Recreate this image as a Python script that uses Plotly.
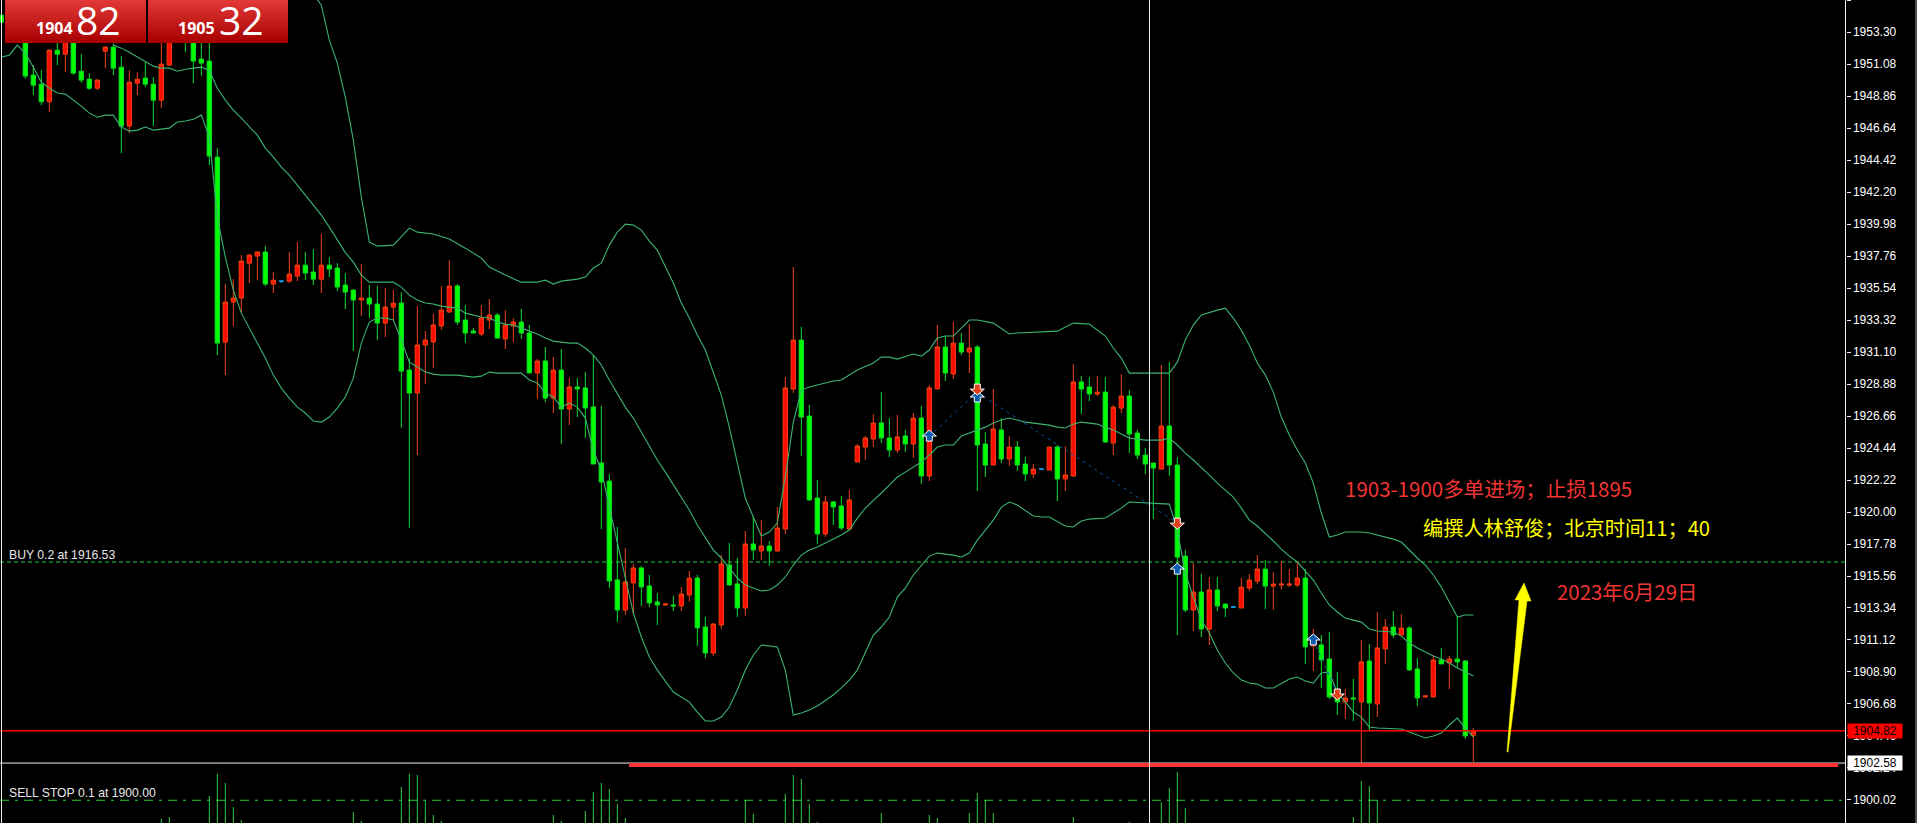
import plotly.graph_objects as go

# ---------- data (XAUUSD M-chart) ----------
PRICE_TICKS = [1955.52,1953.30,1951.08,1948.86,1946.64,1944.42,1942.20,1939.98,1937.76,1935.54,1933.32,1931.10,1928.88,1926.66,1924.44,1922.22,1920.00,1917.78,1915.56,1913.34,1911.12,1908.90,1906.68,1904.46,1902.24,1900.02]

open_ = [1954.48,1954.00,1953.90,1953.21,1950.32,1949.69,1948.47,1952.05,1951.77,1952.98,
1950.59,1950.04,1949.41,1951.98,1952.26,1950.87,1946.78,1949.76,1950.11,1949.69,
1948.58,1951.01,1953.67,1953.44,1953.21,1951.43,1951.29,1944.63,1931.79,1934.57,
1934.85,1937.27,1937.76,1938.04,1935.82,None,1936.02,1936.37,1937.13,1936.65,
1936.16,1937.13,1936.93,1935.75,1935.40,1934.71,1934.85,1934.43,1933.11,1934.22,
1934.50,1929.85,1928.26,1931.59,1931.80,1932.91,1933.88,1935.68,1933.32,1932.56,
1932.35,1933.32,1933.67,1932.01,1932.91,1933.18,1932.42,1929.65,1930.48,1927.91,
1929.85,1927.15,1928.68,1928.61,1927.29,1923.40,1922.15,1915.29,1913.20,1915.08,
1916.12,1914.87,1913.76,1913.55,1913.55,1913.48,1914.24,1915.42,1912.02,1910.22,
1912.16,1916.33,1915.01,1913.34,1917.78,1917.30,1917.64,1917.30,1918.82,1928.54,
1931.93,1926.66,1920.97,1918.48,1920.70,1920.42,1918.82,1923.47,1924.51,1925.07,
1926.18,1925.14,1924.30,1925.28,1924.72,1926.52,1922.50,1928.54,1931.45,1929.57,
1931.72,1931.10,1931.45,1924.72,1923.26,1925.69,1923.68,1924.51,1923.33,1922.64,
None,1922.91,1924.51,1922.29,1922.50,1929.02,1928.67,1928.19,1928.32,1924.79,
1927.21,1928.05,1925.48,1923.95,1923.40,1922.98,1925.97,1923.26,1916.94,1913.20,
1914.45,1911.88,1914.59,1913.61,None,1913.34,1914.72,1915.21,1916.04,1914.86,
1914.93,1914.93,1914.93,1915.42,1910.71,1910.78,1909.80,1907.65,1906.82,1907.10,
1906.82,1909.66,1906.68,1910.50,1912.02,1911.47,1911.95,1909.11,1907.17,1907.17,1909.73,1909.53,1909.80,1909.66,1904.51]

high = [1954.48,1954.20,1954.10,1953.67,1951.01,1950.66,1952.10,1952.74,1952.98,1953.21,
1951.77,1950.46,1950.04,1952.33,1952.51,1951.63,1950.66,1950.52,1951.22,1950.18,
1953.21,1953.44,1954.13,1953.67,1953.44,1952.74,1952.63,1945.25,1935.82,1936.16,
1937.83,1937.90,1938.11,1938.45,1936.65,None,1938.04,1938.73,1938.04,1938.24,
1939.29,1937.69,1937.27,1936.58,1935.47,1937.20,1935.75,1935.68,1935.54,1935.40,
1935.26,1930.66,1934.29,1932.56,1933.74,1935.68,1937.48,1935.82,1934.36,1932.77,
1934.36,1934.78,1933.81,1934.02,1933.46,1934.09,1932.98,1930.62,1931.45,1930.76,
1931.31,1929.30,1929.30,1929.72,1930.90,1927.36,1922.64,1918.96,1917.51,1916.40,
1916.26,1915.63,1914.38,1913.69,1914.18,1914.80,1915.91,1915.63,1912.72,1912.30,
1917.02,1917.85,1916.81,1918.68,1919.73,1919.45,1917.99,1920.35,1929.37,1937.00,
1932.84,1927.43,1922.22,1921.11,1920.77,1921.11,1921.53,1924.72,1925.28,1926.80,
1928.33,1926.52,1926.73,1925.69,1926.87,1927.36,1928.81,1932.98,1932.21,1933.18,
1932.42,1933.04,1931.59,1925.55,1928.53,1926.52,1925.27,1924.93,1923.82,1923.33,
None,1924.51,1924.65,1924.58,1930.27,1929.43,1929.37,1929.43,1929.37,1927.42,
1929.57,1928.46,1925.69,1924.44,1923.40,1930.20,1930.41,1923.81,1917.36,1916.46,
1915.70,1915.49,1915.49,1913.68,None,1915.42,1915.70,1917.01,1916.67,1915.83,
1916.60,1916.04,1916.60,1916.05,1911.89,1911.47,1911.68,1908.90,1907.72,1908.42,
1911.12,1910.84,1913.06,1912.58,1913.13,1912.93,1912.09,1909.87,1907.24,1910.08,1910.57,1910.01,1912.72,1909.73,1905.02]

low = [1953.99,1953.30,1953.20,1950.06,1948.93,1948.24,1947.77,1951.01,1950.52,1950.32,
1949.78,1949.28,1949.28,1950.80,1950.32,1944.91,1946.29,1948.93,1949.48,1946.78,
1948.03,1951.01,1952.74,1951.91,1949.76,1950.25,1944.07,1930.89,1929.50,1932.90,
1933.87,1935.89,1936.09,1935.68,1935.19,None,1935.89,1936.02,1936.09,1935.75,
1935.19,1936.30,1935.33,1934.08,1931.17,1933.60,1933.46,1931.93,1932.14,1933.32,
1925.85,1918.91,1923.95,1928.88,1929.99,1932.63,1933.81,1932.98,1931.73,1932.42,
1932.21,1932.70,1932.07,1931.31,1931.80,1932.01,1929.65,1927.84,1927.63,1926.87,
1924.72,1926.04,1926.59,1925.14,1923.33,1918.82,1914.73,1912.37,1912.86,1912.86,
1913.48,1913.41,1912.16,1913.48,1913.13,1913.13,1913.76,1910.71,1909.87,1910.01,
1911.89,1914.87,1912.72,1912.79,1916.67,1916.67,1916.26,1917.23,1918.48,1928.26,
1923.89,1920.77,1917.78,1918.27,1919.10,1918.75,1918.75,1923.47,1923.61,1924.51,
1924.79,1923.82,1924.10,1924.17,1923.75,1921.95,1922.15,1928.54,1929.09,1929.23,
1930.89,1929.64,1921.46,1922.43,1923.26,1923.40,1923.19,1922.84,1922.15,1922.36,
None,1922.91,1920.76,1921.46,1922.43,1926.80,1927.70,1928.05,1924.79,1923.95,
1926.87,1924.09,1923.68,1922.64,1919.51,1922.98,1922.50,1911.46,1913.06,1911.74,
1911.32,1910.77,1913.13,1912.71,None,1913.34,1914.52,1915.00,1913.27,1913.20,
1914.65,1914.79,1914.79,1909.46,1908.97,1907.79,1907.03,1905.92,1905.64,1905.50,
1902.59,1904.81,1905.78,1909.46,1911.26,1911.47,1908.97,1906.54,1907.10,1907.10,1909.46,1907.72,1909.18,1904.25,1902.66]

close = [1953.99,1953.50,1953.40,1950.25,1949.62,1948.47,1952.05,1951.77,1952.63,1950.46,
1949.97,1949.41,1949.97,1952.26,1950.80,1946.78,1949.83,1950.04,1949.69,1948.58,
1951.08,1952.98,1953.21,1952.98,1951.29,1951.15,1944.70,1931.72,1934.57,1934.85,
1937.41,1937.83,1938.04,1935.82,1936.09,None,1936.51,1937.13,1936.58,1936.16,
1937.13,1936.86,1935.61,1935.26,1934.71,1934.85,1934.43,1933.11,1934.22,1934.50,
1929.78,1928.26,1931.59,1931.93,1932.98,1934.02,1935.68,1933.18,1932.42,1932.42,
1933.46,1933.67,1932.07,1932.98,1933.18,1932.42,1929.65,1930.48,1927.91,1929.85,
1927.15,1928.68,1928.54,1927.22,1923.33,1922.08,1915.22,1913.20,1915.15,1916.12,
1914.80,1913.69,1913.55,1913.62,1913.48,1914.31,1915.42,1911.96,1910.22,1912.23,
1916.40,1914.94,1913.34,1917.78,1917.37,1917.64,1917.30,1918.89,1928.61,1931.93,
1926.59,1920.84,1918.48,1920.70,1920.35,1918.89,1920.84,1924.58,1925.14,1926.18,
1925.14,1924.30,1925.21,1924.72,1926.52,1922.50,1928.61,1931.45,1929.64,1931.72,
1931.10,1931.38,1924.65,1923.26,1925.76,1923.68,1924.51,1923.26,1922.64,1922.98,
None,1924.51,1922.29,1922.57,1929.02,1928.53,1928.19,1928.32,1924.86,1927.28,
1928.05,1925.41,1923.95,1923.33,1923.05,1925.97,1923.26,1916.87,1913.20,1914.45,
1911.88,1914.59,1913.48,1913.34,None,1914.79,1915.28,1916.04,1914.86,1915.00,
1915.00,1915.00,1915.42,1910.64,1910.98,1909.73,1907.17,1906.82,1907.10,1907.03,
1909.60,1906.75,1910.57,1912.02,1911.47,1911.95,1909.04,1907.10,1907.24,1909.73,1909.46,1909.80,1909.60,1904.46,1904.79]

bar_index = list(range(len(close)))

doji_index = [35, 130, 154]
doji_open = [1936.02, 1922.98, 1913.41]
doji_high = [1936.02, 1922.98, 1913.41]
doji_low = [1935.89, 1922.94, 1913.34]
doji_close = [1936.02, 1922.98, 1913.41]

upper_index = [39,40,41,42,43,44,45,46,47,49,51,52,54,56,58,60,61,62,63,65,67,68,69,70,72,73,74,75,76,77,78,79,80,81,82,84,85,86,87,88,89,90,91,92,93,94,95,96,97,98,99,100,101,102,104,105,106,107,109,110,111,112,114,115,116,117,118,119,120,121,122,124,126,127,132,134,136,138,139,140,141,146,147,148,149,150,152,153,154,155,156,157,158,159,160,161,162,163,164,165,166,167,168,170,171,172,173,174,175,176,177,178,179,180,181,182,183,184]
upper_band = [1955.94,1955.17,1952.74,1951.15,1948.79,1945.81,1941.85,1938.73,1938.45,1938.52,1939.70,1939.42,1939.29,1938.94,1938.31,1937.62,1937.00,1936.72,1936.44,1935.95,1935.95,1936.09,1935.82,1936.02,1936.16,1936.30,1936.93,1937.27,1938.52,1939.42,1939.98,1939.91,1939.56,1938.80,1938.17,1935.89,1934.50,1933.46,1932.28,1931.24,1929.71,1928.11,1925.89,1923.40,1920.97,1919.65,1918.33,1918.61,1919.23,1922.43,1926.24,1928.46,1928.67,1928.81,1929.09,1929.16,1929.50,1929.85,1930.34,1930.75,1930.75,1930.61,1930.96,1930.82,1931.24,1932.07,1932.21,1932.21,1932.76,1933.32,1933.32,1933.11,1932.35,1932.42,1932.55,1933.11,1933.04,1932.21,1931.38,1930.68,1929.64,1929.64,1930.40,1931.93,1932.97,1933.67,1934.01,1934.15,1933.46,1932.62,1931.58,1930.34,1929.50,1928.32,1926.59,1925.34,1924.30,1923.40,1922.01,1919.93,1918.26,1918.40,1918.61,1918.61,1918.54,1918.40,1918.26,1918.12,1917.92,1917.36,1916.81,1916.32,1915.63,1914.79,1913.75,1912.71,1912.85,1912.85]

middle_index = list(range(14,47)) + list(range(49,144)) + list(range(145,173)) + list(range(174,185))
middle_band = [1952.40,1952.19,1951.91,1951.57,1951.22,1950.94,1950.80,1950.80,1950.59,1950.73,1950.80,1950.87,1950.66,1949.41,1948.58,1947.89,1947.33,1946.71,1946.15,1945.25,1944.63,1943.93,1943.38,1942.68,1941.99,1941.30,1940.60,1939.77,1938.87,1938.00,1937.34,1936.44,1935.95,
1935.95,1935.61,1935.05,1934.71,1934.50,1934.43,1934.29,1934.22,1934.15,1933.80,1933.67,1933.53,1933.46,1933.18,1933.04,1932.97,1932.76,1932.55,1932.35,1932.07,1931.86,1931.79,1931.72,1931.72,1931.38,1930.89,1930.20,1929.16,1928.25,1927.28,1926.52,1925.55,1924.65,1923.61,1922.77,1921.87,1920.97,1920.14,1919.10,1918.19,1917.36,1916.81,1916.11,1915.42,1914.93,1914.72,1914.52,1914.59,1914.93,1915.49,1916.32,1917.01,1917.36,1917.57,1917.85,1918.12,1918.40,1918.75,1919.58,1920.27,1920.83,1921.32,1921.87,1922.43,1922.77,1923.12,1923.47,1923.95,1924.51,1924.65,1924.65,1925.27,1925.48,1925.69,1925.89,1926.17,1926.38,1926.52,1926.38,1926.24,1926.17,1926.10,1926.03,1925.89,1925.83,1926.10,1926.24,1926.17,1926.10,1925.89,1925.69,1925.41,1925.13,1925.06,1924.99,
1924.99,1925.13,1924.65,1924.09,1923.61,1923.05,1922.56,1922.01,1921.52,1921.04,1920.27,1919.44,1919.03,1918.54,1917.99,1917.43,1916.94,1916.53,1915.90,1915.28,1914.38,1913.55,1913.06,1912.64,1912.50,1912.36,1911.88,1911.74,
1911.67,1911.39,1910.91,1910.56,1910.28,1910.01,1909.80,1909.52,1909.17,1908.90,1908.62]

lower_index = list(range(0,56)) + [57,58,59,60,61,62,65] + list(range(66,118)) + [119,120,121,122,123,124,125,126,127,128,129,130,131,133,134,135,136,138,139,140,141,143,146] + list(range(147,173)) + list(range(175,185))
lower_band = [1951.57,1951.70,1952.40,1951.84,1950.87,1949.83,1949.41,1949.07,1949.00,1948.58,1948.17,1947.68,1947.40,1947.54,1947.54,1946.71,1946.43,1946.50,1946.71,1946.50,1946.57,1946.64,1947.06,1947.13,1947.26,1947.54,1946.02,1940.46,1937.69,1935.40,1933.80,1932.76,1931.79,1930.68,1929.50,1928.60,1927.91,1927.28,1926.87,1926.31,1926.24,1926.59,1927.21,1927.98,1929.29,1931.72,1933.18,1933.46,1933.46,1933.32,1931.93,1930.40,1930.06,1929.71,1929.57,1929.50,
1929.50,1929.43,1929.36,1929.43,1929.71,1929.64,1929.64,
1929.16,1928.95,1928.25,1927.98,1927.28,1927.56,1927.28,1926.52,1924.30,1922.91,1920.34,1917.85,1915.42,1912.99,1911.33,1909.94,1909.03,1908.27,1907.51,1907.16,1906.81,1906.12,1905.50,1905.50,1905.77,1906.47,1907.65,1909.03,1910.08,1910.77,1910.70,1910.63,1909.03,1905.91,1906.05,1906.26,1906.54,1906.95,1907.30,1907.79,1908.34,1909.03,1910.28,1911.46,1912.02,1912.71,1914.10,1914.72,1915.63,1916.32,1916.94,1917.15,
1917.01,1916.88,1917.15,1918.05,1918.75,1919.44,1920.34,1920.69,1920.48,1920.07,1919.72,1919.65,1919.65,1919.03,1918.96,1919.37,1919.51,1919.58,1919.93,1920.27,1920.69,1920.62,1920.55,
1918.75,1915.76,1914.10,1912.50,1911.60,1910.42,1909.52,1908.83,1908.34,1908.13,1908.06,1907.79,1907.79,1908.13,1908.41,1908.55,1908.27,1908.13,1908.83,1908.90,1907.44,1906.82,1906.12,1905.77,1905.08,1905.01,
1904.94,1904.73,1904.53,1904.32,1904.46,1904.66,1905.22,1905.70,1905.01,1904.39]

volume_index = [20,21,26,27,28,29,30,44,45,50,51,52,53,54,55,69,70,73,74,75,76,77,78,93,94,98,99,100,101,102,110,116,117,121,122,123,124,134,141,145,146,147,148,169,170,171,172]
volume = [4,6,27,49,40,16,3,11,2,36,49,48,23,8,2,8,2,12,31,40,34,19,5,23,9,29,48,44,19,1,10,8,5,10,30,23,10,6,1,21,35,51,15,6,42,37,23]

buy_arrow_index = [116, 122, 147, 164]
buy_arrow_price = [1925.27, 1927.98, 1916.04, 1911.12]
sell_arrow_index = [122, 147, 167]
sell_arrow_price = [1928.53, 1919.23, 1907.37]
trade_index = [116, 122, None, 122, 147, None, 164, 167]
trade_price = [1925.27, 1928.30, None, 1928.30, 1919.23, None, 1911.12, 1907.37]

ASK = 1904.82
CROSS = 1902.58
BUY_LEVEL = 1916.53
SELL_LEVEL = 1900.00
TARGET_LEVEL = 1902.45

# ---------- layout helpers ----------
W, H = 1917, 823
def px(v): return v / W
def py(v): return 1 - v / H

fig = go.Figure()

vx, vy = [], []
for i, v in zip(volume_index, volume):
    vx += [i, i, None]
    vy += [0, v, None]
fig.add_trace(go.Scatter(x=vx, y=vy, yaxis="y2", mode="lines", hoverinfo="skip",
                         line=dict(color="#2ecc40", width=1)))

fig.add_trace(go.Candlestick(
    x=bar_index, open=open_, high=high, low=low, close=close, hoverinfo="skip",
    whiskerwidth=0,
    increasing=dict(line=dict(color="#f04010", width=1), fillcolor="#ff0c00"),
    decreasing=dict(line=dict(color="#0adf20", width=1), fillcolor="#00ff00")))
fig.add_trace(go.Candlestick(
    x=doji_index, open=doji_open, high=doji_high, low=doji_low, close=doji_close,
    hoverinfo="skip", whiskerwidth=0,
    increasing=dict(line=dict(color="#10a8f8", width=1), fillcolor="#10a8f8"),
    decreasing=dict(line=dict(color="#10a8f8", width=1), fillcolor="#10a8f8")))

for xs, ys in [(upper_index, upper_band), (middle_index, middle_band), (lower_index, lower_band)]:
    fig.add_trace(go.Scatter(x=xs, y=ys, mode="lines", hoverinfo="skip",
                             line=dict(color="#3cb371", width=1.1)))

fig.add_trace(go.Scatter(x=trade_index, y=trade_price, mode="lines", hoverinfo="skip",
                         line=dict(color="#0b55a8", width=1, dash="3px,4px")))

shapes = [
    dict(type="line", xref="paper", yref="y", x0=0, x1=px(1845), y0=BUY_LEVEL, y1=BUY_LEVEL,
         layer="below", line=dict(color="#22d033", width=1.2, dash="4px,3px")),
    dict(type="line", xref="paper", yref="y", x0=0, x1=px(1845), y0=SELL_LEVEL, y1=SELL_LEVEL,
         layer="below", line=dict(color="#22d033", width=1.2, dash="9px,6px,3px,6px")),
    dict(type="line", xref="paper", yref="y", x0=0, x1=px(1845), y0=ASK, y1=ASK,
         line=dict(color="#ff0000", width=1.3)),
    dict(type="line", xref="paper", yref="y", x0=0, x1=px(1845), y0=CROSS, y1=CROSS,
         line=dict(color="#f0f0f0", width=1)),
    dict(type="line", xref="paper", yref="y", x0=px(629), x1=px(1838), y0=TARGET_LEVEL, y1=TARGET_LEVEL,
         line=dict(color="#ff3333", width=4)),
    dict(type="line", xref="paper", yref="paper", x0=px(1149.5), x1=px(1149.5), y0=0, y1=1,
         line=dict(color="#e8e8e8", width=1)),
    dict(type="line", xref="paper", yref="paper", x0=px(1.5), x1=px(1.5), y0=0, y1=1,
         line=dict(color="#f0f0f0", width=1)),
    dict(type="line", xref="paper", yref="paper", x0=px(1845.5), x1=px(1845.5), y0=0, y1=1,
         line=dict(color="#f0f0f0", width=1)),
    dict(type="line", xref="paper", yref="paper", x0=px(1916), x1=px(1916), y0=0, y1=1,
         line=dict(color="#9a9a9a", width=1)),
]

# trade arrows: data-anchored, fixed pixel size
UP = "M 0,6 L 7,0 L 3,0 L 3,-5 L -3,-5 L -3,0 L -7,0 Z"
DOWN = "M 0,-6 L 7,0 L 3,0 L 3,5 L -3,5 L -3,0 L -7,0 Z"
for xs, ys, path_, col in [(buy_arrow_index, buy_arrow_price, UP, "#0b5cad"),
                           (sell_arrow_index, sell_arrow_price, DOWN, "#e0401a")]:
    for i, p in zip(xs, ys):
        shapes.append(dict(type="path", xref="x", yref="y", xsizemode="pixel", ysizemode="pixel",
                           xanchor=i, yanchor=p, path=path_, fillcolor=col,
                           line=dict(color="white", width=1)))

# yellow arrow
pts = [(1507, 752), (1519, 600), (1515, 600), (1524, 583), (1531, 601), (1527, 601), (1508, 752)]
path = "M " + " L ".join(f"{px(a):.5f},{py(b):.5f}" for a, b in pts) + " Z"
shapes.append(dict(type="path", xref="paper", yref="paper", path=path,
                   fillcolor="#ffff00", line=dict(color="#ffff00", width=0.5)))

# gradient buttons
for x0, x1 in [(5, 146), (148, 288)]:
    for row in range(43):
        t = row / 42
        r = int(226 + (168 - 226) * t)
        gb = int(56 + (0 - 56) * t)
        shapes.append(dict(type="rect", xref="paper", yref="paper",
                           x0=px(x0), x1=px(x1), y0=py(row + 1), y1=py(row),
                           fillcolor=f"rgb({r},{gb},{gb})", line=dict(width=0)))

def label(x, y, text, color, size, family, anchor="left", **kw):
    return dict(xref="paper", yref="paper", x=px(x), y=py(y), text=text, showarrow=False,
                xanchor=anchor, yanchor="middle", font=dict(color=color, size=size, family=family), **kw)

CJK = "Noto Sans CJK SC"
BTN = "Open Sans"
TERM = "Liberation Sans"
annotations = [
    label(7, 555, "BUY 0.2 at 1916.53", "#e8e8e8", 12.2, TERM),
    label(7, 793, "SELL STOP 0.1 at 1900.00", "#e8e8e8", 12.2, TERM),
    label(1343, 488, "1903-1900多单进场；止损1895", "#f03434", 20.5, CJK),
    label(1421, 527, "编撰人林舒俊；北京时间11；40", "#ffff00", 20.2, CJK),
    label(1555, 591, "2023年6月29日", "#f03434", 20.4, CJK),
    label(34, 28, "<b>1904</b>", "white", 16, BTN),
    label(74, 19, "82", "white", 39, BTN, height=38),
    label(176, 28, "<b>1905</b>", "white", 16, BTN),
    label(217, 19, "32", "white", 39, BTN, height=38),
    dict(xref="paper", yref="y", x=px(1875), y=ASK, text="1904.82", showarrow=False,
         xanchor="center", bgcolor="#ff0000", width=54, height=14, borderpad=0,
         font=dict(color="black", size=12, family=TERM)),
    dict(xref="paper", yref="y", x=px(1875), y=CROSS, text="1902.58", showarrow=False,
         xanchor="center", bgcolor="white", width=54, height=14, borderpad=0,
         font=dict(color="black", size=12, family=TERM)),
]

fig.update_layout(
    width=W, height=H, autosize=False,
    margin=dict(l=0, r=0, t=0, b=0, pad=0),
    paper_bgcolor="black", plot_bgcolor="black",
    showlegend=False, hovermode=False, dragmode=False, boxgap=0.22,
    shapes=shapes, annotations=annotations,
    xaxis=dict(range=[-0.166, 239.46], visible=False, rangeslider=dict(visible=False), fixedrange=True),
    yaxis=dict(range=[1898.42, 1955.53], side="right", anchor="free", position=1845.5 / W,
               tickmode="array", tickvals=PRICE_TICKS, ticktext=[f"{t:.2f}" for t in PRICE_TICKS],
               ticks="outside", ticklen=4, tickcolor="#f0f0f0", showgrid=False, zeroline=False,
               showline=False, tickfont=dict(color="white", size=12, family=TERM), fixedrange=True),
    yaxis2=dict(range=[0, 823], overlaying="y", visible=False, fixedrange=True),
)
config = dict(displayModeBar=False, responsive=False)
fig.write_html("out.html", config=config,
               post_script="document.body.style.margin='0';document.body.style.background='black';document.body.style.overflow='hidden';")
